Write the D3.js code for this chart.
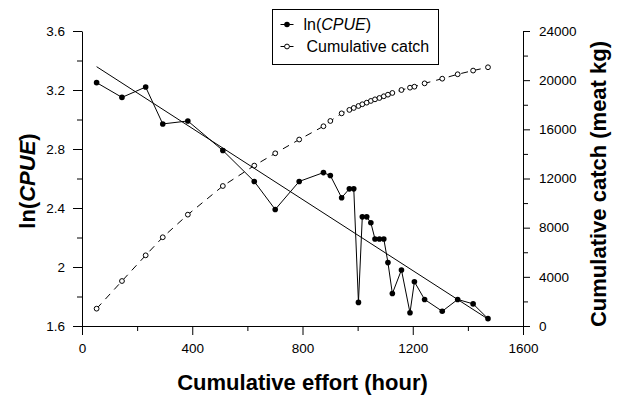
<!DOCTYPE html>
<html lang="en">
<head>
  <meta charset="utf-8">
  <title>ln(CPUE) and cumulative catch</title>
  <style>
    body { margin: 0; background: #fff; }
    svg { font-family: Arial, "Liberation Sans", sans-serif; }
    .axis path, .axis line { stroke: #000; stroke-width: 1px; }
    .axis text { font-size: 13.5px; fill: #000; }
  </style>
</head>
<body>
  <script src="https://d3js.org/d3.v7.min.js"></script>
  <svg></svg>
  <script>

// Cumulative effort (hour), same x for both series
var effort = [53, 145, 231, 293, 384, 511, 625, 701, 788, 876, 901, 942, 970, 986, 1003,
              1017, 1033, 1048, 1063, 1079, 1095, 1110, 1126, 1159, 1190, 1206, 1243,
              1307, 1363, 1419, 1473];
// ln(CPUE)
var lnCpue = [3.25, 3.15, 3.22, 2.97, 2.99, 2.79, 2.58, 2.39, 2.58, 2.64, 2.62, 2.47, 2.53, 2.53, 1.76,
              2.34, 2.34, 2.30, 2.19, 2.19, 2.19, 2.03, 1.82, 1.98, 1.69, 1.90, 1.78,
              1.70, 1.78, 1.75, 1.65];
// Cumulative catch (meat kg)
var cumCatch = [1410, 3660, 5750, 7220, 9060, 11390, 13050, 14050, 15170, 16250, 16680, 17300, 17580, 17740, 17900,
                18040, 18170, 18310, 18440, 18550, 18690, 18820, 18960, 19200, 19390, 19470, 19740,
                20120, 20480, 20780, 21050];
// fitted line ln(CPUE) = a + b * effort
var fitA = 3.422, fitB = -0.001205;

var xTicks = [0, 400, 800, 1200, 1600];
var yTicks = [1.6, 2, 2.4, 2.8, 3.2, 3.6];
var y2Ticks = [0, 4000, 8000, 12000, 16000, 20000, 24000];

var width = 617, height = 396;
var margins = {top: 31, right: 94, bottom: 70, left: 82};

var svg = d3.select('svg')
            .attr('width', width)
            .attr('height', height);

var xScale = d3.scaleLinear().domain([0, 1600]).range([margins.left, width - margins.right]);
var yScale = d3.scaleLinear().domain([1.6, 3.6]).range([height - margins.bottom, margins.top]);
var y2Scale = d3.scaleLinear().domain([0, 24000]).range([height - margins.bottom, margins.top]);

var fmt = function(d) { return String(d); };

// minor ticks first (no labels)
svg.append('g').attr('class', 'axis')
   .attr('transform', 'translate(0,' + (height - margins.bottom) + ')')
   .call(d3.axisBottom(xScale).tickValues(d3.range(200, 1600, 400)).tickSize(5).tickFormat(''))
   .select('.domain').remove();
svg.append('g').attr('class', 'axis')
   .attr('transform', 'translate(' + margins.left + ',0)')
   .call(d3.axisLeft(yScale).tickValues(d3.range(1.8, 3.6, 0.4)).tickSize(5).tickFormat(''))
   .select('.domain').remove();
svg.append('g').attr('class', 'axis')
   .attr('transform', 'translate(' + (width - margins.right) + ',0)')
   .call(d3.axisRight(y2Scale).tickValues(d3.range(2000, 24000, 4000)).tickSize(5).tickFormat(''))
   .select('.domain').remove();

// X axis
svg.append('g').attr('class', 'axis')
   .attr('transform', 'translate(0,' + (height - margins.bottom) + ')')
   .call(d3.axisBottom(xScale).tickValues(xTicks).tickSize(9).tickSizeOuter(0).tickPadding(8).tickFormat(fmt));

// left Y axis
svg.append('g').attr('class', 'axis')
   .attr('transform', 'translate(' + margins.left + ',0)')
   .call(d3.axisLeft(yScale).tickValues(yTicks).tickSize(9).tickSizeOuter(0).tickPadding(8).tickFormat(fmt));

// right Y axis
svg.append('g').attr('class', 'axis')
   .attr('transform', 'translate(' + (width - margins.right) + ',0)')
   .call(d3.axisRight(y2Scale).tickValues(y2Ticks).tickSize(7).tickSizeOuter(0).tickPadding(9).tickFormat(fmt));

var pts = effort.map(function(d, i) { return {x: d, y: lnCpue[i], c: cumCatch[i]}; });

// cumulative catch, dashed with open circles
svg.append('path')
   .datum(pts)
   .attr('fill', 'none')
   .attr('stroke', '#000')
   .attr('stroke-width', 1)
   .attr('stroke-dasharray', '7,6')
   .attr('d', d3.line().x(function(d) { return xScale(d.x); }).y(function(d) { return y2Scale(d.c); }));

// regression line
svg.append('line')
   .attr('x1', xScale(effort[0])).attr('y1', yScale(fitA + fitB * effort[0]))
   .attr('x2', xScale(effort[effort.length - 1])).attr('y2', yScale(fitA + fitB * effort[effort.length - 1]))
   .attr('stroke', '#000').attr('stroke-width', 1);

// ln(CPUE) line
svg.append('path')
   .datum(pts)
   .attr('fill', 'none')
   .attr('stroke', '#000')
   .attr('stroke-width', 1)
   .attr('d', d3.line().x(function(d) { return xScale(d.x); }).y(function(d) { return yScale(d.y); }));

svg.append('g').selectAll('circle')
   .data(pts).enter().append('circle')
   .attr('cx', function(d) { return xScale(d.x); })
   .attr('cy', function(d) { return y2Scale(d.c); })
   .attr('r', 2.4)
   .attr('fill', '#fff').attr('stroke', '#000').attr('stroke-width', 1);

svg.append('g').selectAll('circle')
   .data(pts).enter().append('circle')
   .attr('cx', function(d) { return xScale(d.x); })
   .attr('cy', function(d) { return yScale(d.y); })
   .attr('r', 2.8)
   .attr('fill', '#000');

// axis titles
svg.append('text')
   .attr('x', (margins.left + width - margins.right) / 2)
   .attr('y', 390)
   .attr('text-anchor', 'middle')
   .attr('font-size', '22px').attr('font-weight', 'bold')
   .text('Cumulative effort (hour)');

var yl = svg.append('text')
   .attr('transform', 'translate(35,181) rotate(-90)')
   .attr('text-anchor', 'middle')
   .attr('font-size', '22px').attr('font-weight', 'bold');
yl.append('tspan').text('ln(');
yl.append('tspan').attr('font-style', 'italic').text('CPUE');
yl.append('tspan').text(')');

svg.append('text')
   .attr('transform', 'translate(606,184) rotate(-90)')
   .attr('text-anchor', 'middle')
   .attr('font-size', '22px').attr('font-weight', 'bold')
   .text('Cumulative catch (meat kg)');

// legend
var leg = svg.append('g').attr('transform', 'translate(272.5,9.5)');
leg.append('rect').attr('width', 166).attr('height', 55)
   .attr('fill', '#fff').attr('stroke', '#000').attr('stroke-width', 1);
leg.append('line').attr('x1', 8).attr('x2', 21).attr('y1', 15).attr('y2', 15).attr('stroke', '#000');
leg.append('circle').attr('cx', 14.5).attr('cy', 15).attr('r', 2.8).attr('fill', '#000');
leg.append('line').attr('x1', 8).attr('x2', 21).attr('y1', 37).attr('y2', 37).attr('stroke', '#000');
leg.append('circle').attr('cx', 14.5).attr('cy', 37).attr('r', 2.4)
   .attr('fill', '#fff').attr('stroke', '#000');
var l1 = leg.append('text').attr('x', 31).attr('y', 20.5).attr('font-size', '16px');
l1.append('tspan').text('ln(');
l1.append('tspan').attr('font-style', 'italic').text('CPUE');
l1.append('tspan').text(')');
leg.append('text').attr('x', 34).attr('y', 42.5).attr('font-size', '16px').text('Cumulative catch');

  </script>
</body>
</html>
